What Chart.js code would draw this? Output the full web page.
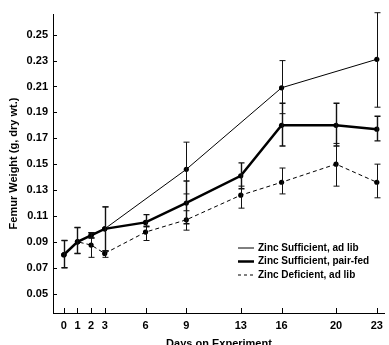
<!DOCTYPE html>
<html>
<head>
<meta charset="utf-8">
<script src="https://cdn.jsdelivr.net/npm/chart.js@4/dist/chart.umd.min.js"></script>
<style>body{margin:0;background:#fff}</style>
</head>
<body>
<canvas id="femurChart" width="389" height="345"></canvas>
<script>
// tick labels
const dayTicks = [0, 1, 2, 3, 6, 9, 13, 16, 20, 23];
const weightTicks = [0.05, 0.07, 0.09, 0.11, 0.13, 0.15, 0.17, 0.19, 0.21, 0.23, 0.25];

// Zinc Sufficient, ad lib
const adlibDays = [0, 1, 2, 3, 9, 16, 23];
const adlibVals = [0.080, 0.090, 0.095, 0.100, 0.146, 0.209, 0.231];
const adlibHi   = [0.091, 0.101, 0.097, 0.117, 0.167, 0.230, 0.267];
const adlibLo   = [0.070, 0.081, 0.093, 0.083, 0.127, 0.189, 0.194];

// Zinc Sufficient, pair-fed
const pairDays = [0, 1, 2, 3, 6, 9, 13, 16, 20, 23];
const pairVals = [0.080, 0.090, 0.095, 0.100, 0.105, 0.120, 0.141, 0.180, 0.180, 0.177];
const pairHi   = [0.091, 0.101, 0.097, 0.117, 0.111, 0.137, 0.151, 0.197, 0.197, 0.187];
const pairLo   = [0.070, 0.081, 0.093, 0.083, 0.102, 0.104, 0.131, 0.164, 0.164, 0.168];

// Zinc Deficient, ad lib
const defDays = [0, 1, 2, 3, 6, 9, 13, 16, 20, 23];
const defVals = [0.080, 0.090, 0.0875, 0.081, 0.0975, 0.107, 0.126, 0.136, 0.150, 0.136];
const defHi   = [0.080, 0.090, 0.097, 0.083, 0.1015, 0.114, 0.133, 0.147, 0.166, 0.150];
const defLo   = [0.080, 0.090, 0.078, 0.078, 0.091, 0.099, 0.116, 0.127, 0.133, 0.124];

const seriesNames = ['Zinc Sufficient, ad lib', 'Zinc Sufficient, pair-fed', 'Zinc Deficient, ad lib'];

const narrow = "'Liberation Sans Narrow', 'Liberation Sans', Arial, sans-serif";
const plain = "'Liberation Sans', Arial, sans-serif";

function pts(xs, ys, hi, lo) {
  return xs.map((x, i) => ({x: x, y: ys[i], hi: hi[i], lo: lo[i]}));
}

function makeSet(label, data, width, dash, errWidth) {
  return {
    label: label,
    data: data,
    showLine: true,
    borderColor: '#000',
    backgroundColor: '#000',
    borderWidth: width,
    borderDash: dash,
    pointRadius: 2.6,
    pointHoverRadius: 2.6,
    pointBorderWidth: 0,
    errWidth: errWidth
  };
}

// error bars + inside tick marks + legend
const extras = {
  id: 'extras',
  afterDatasetsDraw(chart) {
    const ctx = chart.ctx;
    const xs = chart.scales.x, ys = chart.scales.y;
    const area = chart.chartArea;
    ctx.save();
    ctx.strokeStyle = '#111';
    chart.data.datasets.forEach(ds => {
      ctx.lineWidth = ds.errWidth;
      ds.data.forEach(p => {
        if (p.hi - p.lo < 0.001) return;
        const px = Math.round(xs.getPixelForValue(p.x)) + 0.5;
        const yh = ys.getPixelForValue(p.hi), yl = ys.getPixelForValue(p.lo);
        ctx.beginPath();
        ctx.moveTo(px, yh); ctx.lineTo(px, yl);
        ctx.moveTo(px - 3, yh); ctx.lineTo(px + 3, yh);
        ctx.moveTo(px - 3, yl); ctx.lineTo(px + 3, yl);
        ctx.stroke();
      });
    });

    // tick marks pointing inward
    ctx.lineWidth = 1;
    ctx.strokeStyle = '#000';
    ctx.beginPath();
    dayTicks.forEach(d => {
      const px = Math.round(xs.getPixelForValue(d)) + 0.5;
      ctx.moveTo(px, area.bottom); ctx.lineTo(px, area.bottom - 5);
    });
    weightTicks.forEach(v => {
      const py = Math.round(ys.getPixelForValue(v)) + 0.5;
      ctx.moveTo(area.left, py); ctx.lineTo(area.left + 4, py);
    });
    ctx.stroke();

    // legend
    const lx = 238, ly = 248, gap = 13.5;
    const widths = [1, 2.5, 1];
    const dashes = [[], [], [3, 3]];
    ctx.font = 'bold 10px ' + narrow;
    ctx.fillStyle = '#000';
    ctx.textBaseline = 'middle';
    seriesNames.forEach((name, i) => {
      const y = ly + i * gap;
      ctx.lineWidth = widths[i];
      ctx.setLineDash(dashes[i]);
      ctx.beginPath();
      ctx.moveTo(lx, y); ctx.lineTo(lx + 16, y);
      ctx.stroke();
      ctx.setLineDash([]);
      ctx.fillText(name, lx + 20, y);
    });
    ctx.restore();
  }
};

new Chart(document.getElementById('femurChart'), {
  type: 'scatter',
  data: {
    datasets: [
      makeSet(seriesNames[0], pts(adlibDays, adlibVals, adlibHi, adlibLo), 1, [], 1),
      makeSet(seriesNames[1], pts(pairDays, pairVals, pairHi, pairLo), 2.5, [], 1.4),
      makeSet(seriesNames[2], pts(defDays, defVals, defHi, defLo), 1, [4, 3], 1)
    ]
  },
  options: {
    responsive: false,
    animation: false,
    layout: {padding: {top: 14, right: 2, left: 0, bottom: 0}},
    plugins: {legend: {display: false}, tooltip: {enabled: false}},
    scales: {
      x: {
        type: 'linear',
        min: -0.8,
        max: 23.6,
        afterBuildTicks: s => { s.ticks = dayTicks.map(v => ({value: v})); },
        afterFit: s => { s.height = 32; },
        grid: {display: false, drawTicks: false},
        border: {display: true, color: '#000', width: 1},
        ticks: {color: '#000', padding: 6, maxRotation: 0, autoSkip: false,
                font: {family: plain, size: 11, weight: 'bold'}},
        title: {display: true, text: 'Days on Experiment', color: '#000',
                font: {family: narrow, size: 11, weight: 'bold'},
                padding: {top: 0, bottom: -6}}
      },
      y: {
        min: 0.035,
        max: 0.266,
        afterBuildTicks: s => { s.ticks = weightTicks.map(v => ({value: v})); },
        afterFit: s => { s.width = 53; },
        grid: {display: false, drawTicks: false},
        border: {display: true, color: '#000', width: 1},
        ticks: {color: '#000', padding: 5, callback: v => v.toFixed(2),
                font: {family: plain, size: 11, weight: 'bold'}},
        title: {display: true, text: 'Femur Weight (g, dry wt.)', color: '#000',
                font: {family: narrow, size: 11, weight: 'bold'},
                padding: {top: 7, bottom: 0}}
      }
    }
  },
  plugins: [extras]
});
</script>
</body>
</html>
